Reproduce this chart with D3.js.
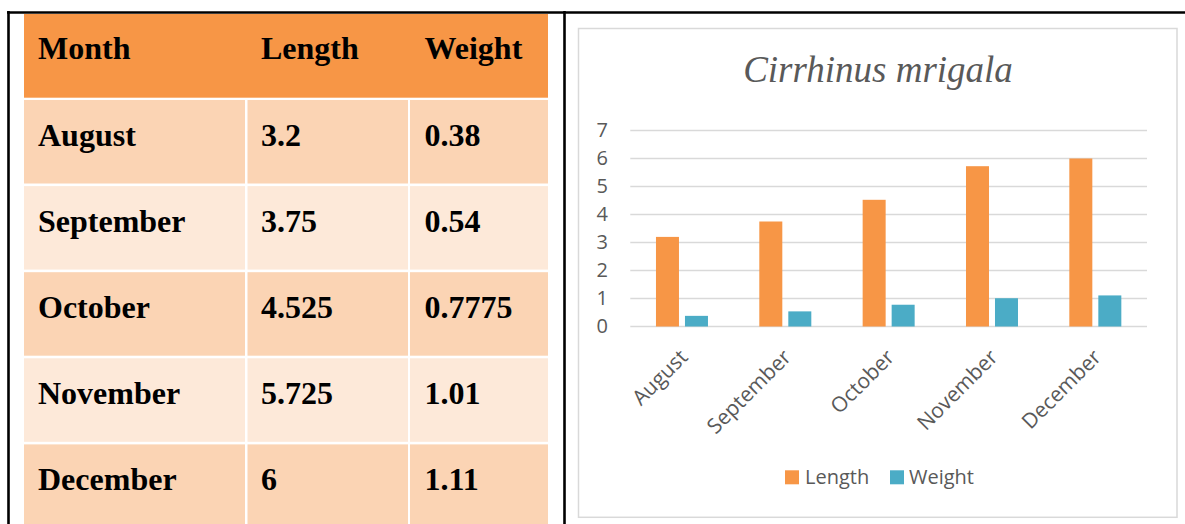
<!DOCTYPE html>
<html>
<head>
<meta charset="utf-8">
<script src="https://cdn.jsdelivr.net/npm/d3@7"></script>
<style>
  html, body { margin: 0; padding: 0; background: #fff; }
  svg { display: block; }
</style>
</head>
<body>
<svg id="page" width="1185" height="524"></svg>
<script>
// Monthly growth of Cirrhinus mrigala
const months = ["August", "September", "October", "November", "December"];
const lengthValues = [3.2, 3.75, 4.525, 5.725, 6];
const weightValues = [0.38, 0.54, 0.7775, 1.01, 1.11];
const seriesNames = ["Length", "Weight"];
const tableHeaders = ["Month", "Length", "Weight"];
const yTicks = [0, 1, 2, 3, 4, 5, 6, 7];

const colors = { Length: "#F79646", Weight: "#4BACC6" };
const svg = d3.select("#page");

/* ---------- outer frame ---------- */
const frame = svg.append("g").attr("stroke", "#000").attr("stroke-width", 2.6);
frame.append("line").attr("x1", 7).attr("x2", 1185).attr("y1", 12.5).attr("y2", 12.5);
frame.append("line").attr("x1", 8.5).attr("x2", 8.5).attr("y1", 11).attr("y2", 524);
frame.append("line").attr("x1", 564.5).attr("x2", 564.5).attr("y1", 11).attr("y2", 524);

/* ---------- data table ---------- */
const table = svg.append("g");
const colEdges = [[24, 245], [247.5, 408], [410, 548]];
const textX = [38, 261, 424.5];
const headerTop = 14, headerBottom = 97.7;
const rowTop = i => 100 + 86.1 * i;
const rowH = 83.5;
const tableFont = "'Liberation Serif', 'Times New Roman', serif";

table.append("rect")
  .attr("x", 24).attr("y", headerTop)
  .attr("width", 548 - 24).attr("height", headerBottom - headerTop)
  .attr("fill", "#F79646");

table.selectAll("text.head").data(tableHeaders).join("text")
  .attr("class", "head")
  .attr("x", (d, i) => textX[i]).attr("y", headerTop + 45.3)
  .attr("font-family", tableFont).attr("font-weight", "bold")
  .attr("font-size", 32).attr("fill", "#000")
  .text(d => d);

const rows = months.map((m, i) => [m, String(lengthValues[i]), String(weightValues[i])]);
rows.forEach((cells, i) => {
  const g = table.append("g");
  const fill = i % 2 === 0 ? "#FBD4B4" : "#FDE9D9";
  colEdges.forEach(([x0, x1]) => {
    g.append("rect").attr("x", x0).attr("y", rowTop(i))
      .attr("width", x1 - x0).attr("height", rowH).attr("fill", fill);
  });
  g.selectAll("text").data(cells).join("text")
    .attr("x", (d, j) => textX[j]).attr("y", rowTop(i) + 46)
    .attr("font-family", tableFont).attr("font-weight", "bold")
    .attr("font-size", 32).attr("fill", "#000")
    .text(d => d);
});

/* ---------- chart ---------- */
const chartFont = "'Open Sans', 'Noto Sans', sans-serif";
svg.append("rect")
  .attr("x", 578.5).attr("y", 28.5).attr("width", 1177 - 578.5).attr("height", 517.3 - 28.5)
  .attr("fill", "#fff").attr("stroke", "#D9D9D9").attr("stroke-width", 1.5);

svg.append("text")
  .attr("x", 878).attr("y", 82)
  .attr("text-anchor", "middle")
  .attr("font-family", tableFont).attr("font-style", "italic")
  .attr("font-size", 37).attr("fill", "#595959")
  .text("Cirrhinus mrigala");

const x = d3.scaleBand().domain(months).range([630.3, 1147]).padding(0);
const y = d3.scaleLinear().domain([0, 7]).range([326.5, 130.5]);

// horizontal gridlines
svg.append("g").selectAll("line").data(yTicks).join("line")
  .attr("x1", 630.3).attr("x2", 1147)
  .attr("y1", d => y(d)).attr("y2", d => y(d))
  .attr("stroke", "#D9D9D9").attr("stroke-width", 1.5);

// y axis labels
const yAxis = svg.append("g").attr("transform", "translate(618,0)")
  .call(d3.axisLeft(y).tickValues(yTicks).tickSize(0).tickPadding(10).tickFormat(d3.format("d")));
yAxis.select(".domain").remove();
yAxis.selectAll("text")
  .attr("font-family", chartFont).attr("font-size", 20).attr("fill", "#595959");

// bars
const barW = 23, gap = 6;
const offsets = { Length: -gap / 2 - barW, Weight: gap / 2 };
const seriesData = { Length: lengthValues, Weight: weightValues };
seriesNames.forEach(name => {
  svg.append("g").selectAll("rect").data(months).join("rect")
    .attr("x", m => x(m) + x.bandwidth() / 2 + offsets[name])
    .attr("y", (m, i) => y(seriesData[name][i]))
    .attr("width", barW)
    .attr("height", (m, i) => y(0) - y(seriesData[name][i]))
    .attr("fill", colors[name]);
});

// x axis labels, rotated
const xAxis = svg.append("g").attr("transform", `translate(0,${y(0)})`)
  .call(d3.axisBottom(x).tickSize(0).tickPadding(0));
xAxis.select(".domain").remove();
xAxis.selectAll("text")
  .attr("font-family", chartFont).attr("font-size", 21).attr("fill", "#595959")
  .attr("text-anchor", "end")
  .attr("dy", 0).attr("y", 0)
  .attr("transform", "translate(7,32) rotate(-45)");

// legend
const legend = svg.append("g");
const legendPos = [{ sx: 785, tx: 805 }, { sx: 890, tx: 909 }];
seriesNames.forEach((name, i) => {
  legend.append("rect").attr("x", legendPos[i].sx).attr("y", 470.3)
    .attr("width", 14).attr("height", 14).attr("fill", colors[name]);
  legend.append("text").attr("x", legendPos[i].tx).attr("y", 484.3)
    .attr("font-family", chartFont).attr("font-size", 20).attr("fill", "#595959")
    .text(name);
});
</script>
</body>
</html>
